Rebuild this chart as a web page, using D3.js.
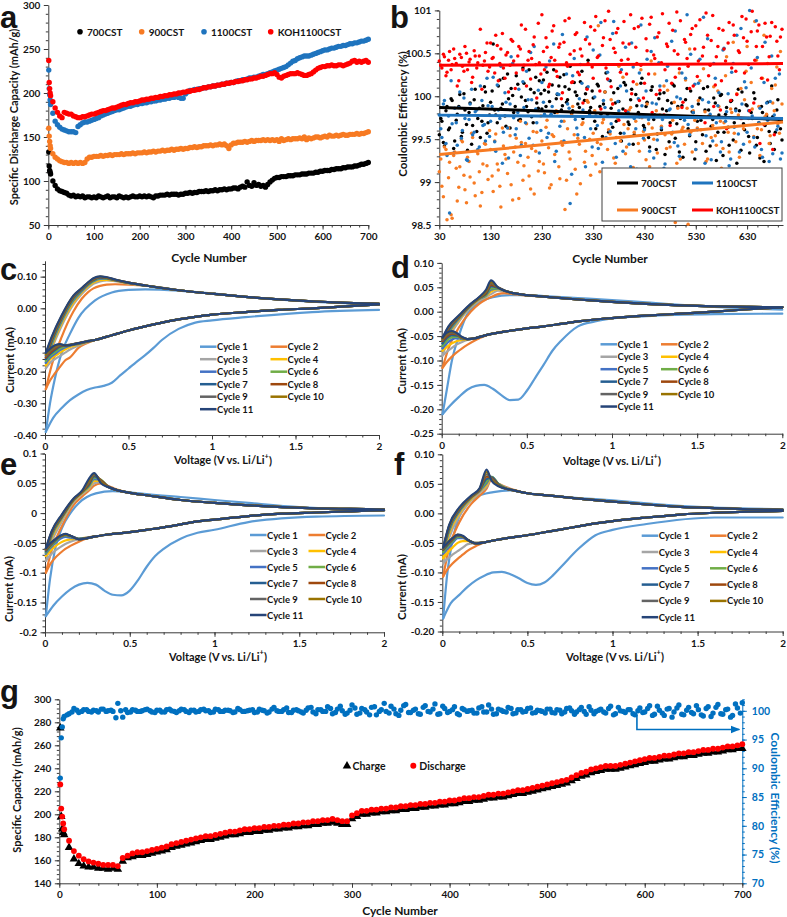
<!DOCTYPE html>
<html><head><meta charset="utf-8">
<script src="https://cdn.jsdelivr.net/npm/d3@7/dist/d3.min.js"></script>
<style>body{margin:0;background:#fff}</style>
</head><body>
<svg id="chart" width="787" height="917"></svg>
<script>
// ---------------- DATA ----------------
// Panel a: specific discharge capacity vs cycle
const cycA = [1,2,3,4].concat(d3.range(5,701,5));
const cap700 = [133,117,112,110,
108,100,95,91,89,88,87,86,84,83, 84,82,83,82,83,81,82,82,81,82, 81,83,82,81,82,83,81,82,82,81,
83,82,81,82,81,82,83,82,82,83, 82,83,82,83,82,81,83,83,84,84, 84,85,84,85,85,85,84,85,85,86,
86,87,86,87,87,88,88,88,89,88, 89,89,90,89,90,90,91,90,91,91, 92,92,91,93,94,93,99,95,94,98,
95,96,94,95,93,96,99,101,103,104, 104,105,105,105,106,106,106,107,107,107, 108,108,108,109,109,109,110,110,111,111,
112,112,112,113,113,114,114,114,115,115, 116,116,116,117,117,118,119,119,120,121];
const cap900 = [160,151,145,140,
137,131,127,125,123,122,121,121,120,121, 120,121,120,121,120,121,125,127,127,128, 128,128,129,128,129,129,130,129,130,130,
130,131,130,131,131,131,132,131,132,132, 132,133,132,133,133,134,133,134,134,135, 134,135,135,136,135,136,136,137,136,137,
137,138,138,139,138,139,139,140,140,140, 141,140,141,141,142,141,142,140,137,141, 143,143,144,144,144,145,144,145,146,145,
146,146,146,147,146,147,146,147,146,147, 145,148,146,147,148,147,148,148,148,149, 148,150,147,149,148,149,150,150,149,150,
151,150,152,151,151,152,151,152,153,152, 152,153,153,153,154,153,154,154,155,156];
const cap1100 = [226,205,198,192,
187,177,168,164,161,159,158,157,156,156, 156,155,162,164,166,167,167,168,169,170, 171,172,174,175,176,177,178,179,180,181,
181,182,183,184,185,185,186,187,187,188, 188,189,189,190,190,191,191,192,192,193, 193,194,194,195,195,196,195,194,194,199,
201,203,203,204,204,205,205,206,206,207, 207,208,208,209,209,210,210,211,211,212, 212,213,214,214,215,215,216,217,217,218,
218,219,220,221,221,222,223,224,225,226, 227,228,229,230,232,234,236,237,239,240, 241,242,242,242,243,244,245,246,247,248,
249,249,250,251,251,252,253,253,254,254, 255,256,256,257,257,258,259,259,260,261];
const capKOH = [237,212,205,200,
197,190,183,178,174,172,178,177,176,176, 174,173,172,172,173,173,174,175,176,176, 177,178,179,180,180,181,182,183,183,184,
185,186,187,187,188,189,189,190,190,191, 192,192,193,193,194,194,195,195,196,196, 197,197,198,198,199,199,200,200,201,201,
202,202,203,203,204,204,205,206,206,207, 207,208,208,209,209,210,210,211,211,212, 212,213,213,214,214,215,215,216,216,217,
217,218,219,219,220,221,222,222,223,221, 218,217,219,220,221,222,222,222,223,222, 221,220,220,221,222,224,226,228,229,230,
230,231,231,232,231,231,232,232,231,232, 233,234,236,237,235,236,235,236,237,235];
const seriesA = ["700CST","900CST","1100CST","KOH1100CST"];
const colorsA = ["#000000","#F77A22","#1F74BE","#FF0000"];

// Panel b: coulombic efficiency scatter (two readings per 5-cycle slot) + trend lines
const cycB = d3.range(30,700,5);
const cycB2 = d3.range(33,700,5);
const ce700 = [99.55,99.71,99.42,99.88,99.63,99.95,99.48,99.79,100.02,99.58,99.84,99.37,99.92,99.66,100.08,99.74,99.52,99.89,100.05,99.69,
99.93,100.61,99.78,100.12,99.86,100.21,99.65,99.97,100.09,99.81,100.24,99.72,99.99,100.15,99.88,100.31,99.76,100.04,99.92,100.18,
99.85,100.07,100.28,99.94,100.13,99.81,100.02,100.22,99.89,100.11,99.96,100.35,99.83,100.05,99.91,100.17,99.74,100.03,100.42,99.87,
99.98,99.62,100.12,99.79,99.91,100.27,99.58,99.86,100.04,99.71,99.94,99.48,100.16,99.82,99.67,100.08,99.55,99.89,99.76,100.21,
99.63,99.93,99.41,100.11,99.78,99.56,100.03,99.85,99.32,99.95,99.69,100.14,99.51,99.88,99.74,99.29,99.96,99.62,100.06,99.81,
99.47,99.91,99.72,100.09,99.36,99.84,99.65,99.98,99.25,99.78,100.02,99.58,99.87,99.43,99.95,99.69,99.22,99.83,100.05,99.61,
99.89,99.34,99.74,99.97,99.52,99.28,99.81,99.66,99.93,99.45,99.76,99.58,99.96,99.62];
const ce700b = [99.74,99.46,99.83,99.61,99.97,99.39,99.72,99.88,99.53,100.03,99.67,99.81,99.44,99.96,99.59,99.86,99.71,100.11,99.57,99.78,
100.06,99.84,99.69,100.19,99.91,99.77,100.26,99.63,100.01,99.88,100.14,99.73,100.33,99.95,99.82,100.08,99.69,100.22,99.86,100.03,
100.19,99.88,100.05,99.78,100.31,99.97,100.12,99.84,100.25,99.93,100.08,99.8,100.16,100.01,99.87,100.29,99.95,100.1,99.83,100.06,
99.71,100.14,99.88,99.53,100.05,99.79,100.18,99.64,99.92,100.09,99.57,99.85,100.13,99.7,99.96,99.44,100.02,99.81,100.15,99.66,
99.88,99.52,100.07,99.73,99.38,99.97,99.61,100.04,99.83,99.47,99.92,100.12,99.68,99.35,99.89,99.76,100.09,99.54,99.82,99.27,
99.71,99.98,99.55,99.84,100.11,99.42,99.73,99.92,99.58,100.01,99.31,99.79,99.64,99.94,99.49,99.85,100.08,99.37,99.68,99.9,
99.53,99.81,100.04,99.43,99.69,99.88,99.24,99.77,99.59,100.12,99.38,99.84,99.71,99.49];
const ce900 = [99.12,98.95,99.41,98.56,99.23,98.58,99.35,98.78,99.18,99.47,98.91,99.29,99.06,99.52,98.84,99.33,98.72,99.21,99.44,99.03,
99.38,98.89,99.56,99.14,98.71,99.42,99.27,99.63,98.97,99.35,99.51,98.81,99.46,99.19,99.68,99.07,99.39,98.86,99.58,99.24,
99.48,99.11,99.72,98.93,99.55,99.32,99.81,99.04,99.43,98.68,99.62,99.27,99.88,99.15,99.51,98.98,99.69,99.36,99.93,99.08,
99.57,99.21,100.82,99.44,99.73,98.87,99.61,99.96,99.28,99.52,100.35,99.13,99.67,99.41,99.84,99.02,99.58,100.14,99.36,99.75,
99.49,99.91,99.18,99.63,100.26,99.34,99.78,98.92,99.55,100.07,99.41,99.72,98.53,99.86,99.27,99.64,100.19,98.51,99.58,99.83,
99.38,99.95,99.61,100.32,99.24,99.77,99.52,100.11,99.43,99.88,99.16,99.69,100.46,99.35,99.81,99.57,100.03,99.29,99.74,99.96,
100.58,99.47,99.85,100.87,99.62,99.31,100.21,99.76,100.38,99.54,99.92,100.13,99.68,100.52];
const ce900b = [99.27,98.83,99.38,99.05,98.62,99.31,99.16,98.94,99.49,99.08,98.76,99.24,99.57,98.99,99.36,99.12,98.88,99.45,99.19,99.6,
99.07,99.48,99.21,98.95,99.63,99.32,99.1,99.54,98.79,99.41,99.23,99.71,99.02,99.45,99.29,98.92,99.59,99.36,99.13,99.77,
99.21,99.64,99.4,98.97,99.53,99.83,99.18,99.47,99.71,99.02,99.35,99.78,99.55,98.86,99.44,99.67,99.23,99.95,99.5,99.31,
99.83,99.46,99.12,99.69,100.05,99.38,99.56,99.91,99.22,99.74,99.48,100.22,99.33,99.62,99.87,99.17,99.71,99.45,100.31,99.59,
99.26,99.68,100.41,99.5,99.83,99.14,99.65,100.12,99.39,99.77,99.56,99.93,99.22,100.27,99.61,99.44,99.86,100.55,99.35,99.72,
99.63,100.18,99.45,99.82,99.27,100.37,99.66,99.54,100.06,99.71,99.39,100.24,99.58,99.85,100.63,99.47,99.78,100.09,99.62,100.29,
99.74,100.16,99.53,100.42,99.88,99.61,100.71,99.79,99.45,100.09,99.83,100.34,99.57,99.91];
const ce1100 = [99.78,99.52,99.95,99.31,98.64,99.68,99.86,99.43,100.05,99.6,99.74,99.25,99.91,99.55,99.82,99.38,100.12,99.66,99.48,99.89,
99.71,100.22,99.36,99.84,100.35,99.58,99.93,99.28,100.46,99.75,99.62,100.08,99.43,99.87,100.29,99.51,99.96,100.58,99.69,99.34,
100.16,99.79,99.52,100.41,99.88,99.24,100.03,99.65,100.72,99.46,99.91,98.75,100.24,99.73,99.55,100.37,99.84,99.18,100.11,99.62,
100.54,99.77,99.39,100.86,99.95,99.52,100.19,99.68,100.87,99.29,99.83,100.31,99.57,100.06,99.44,100.62,99.74,99.15,100.27,99.89,
99.61,100.43,99.36,99.92,100.68,99.49,100.12,99.73,99.21,100.35,99.85,99.58,100.76,99.42,99.97,99.13,100.21,99.67,100.49,99.81,
99.38,100.15,99.75,100.92,99.54,99.93,99.26,100.38,99.69,100.04,99.47,100.56,99.82,99.19,100.28,99.64,100.71,99.35,99.91,100.17,
99.58,101.0,99.77,99.41,100.45,99.86,99.29,100.63,99.72,99.94,99.33,100.21,99.65,99.27];
const ce1100b = [99.62,99.91,99.45,99.77,100.18,99.34,99.69,99.87,99.51,99.98,99.26,99.73,100.08,99.58,99.84,99.41,99.95,99.67,100.21,99.53,
99.88,99.47,100.13,99.74,99.22,100.04,99.63,99.91,100.38,99.55,99.81,99.31,100.17,99.69,99.96,100.51,99.43,99.85,100.07,99.6,
99.93,100.34,99.57,99.79,100.61,99.36,100.02,99.71,99.48,100.26,99.86,99.09,100.44,99.63,99.97,100.15,99.52,100.69,99.78,99.41,
99.99,99.66,100.48,99.23,99.87,100.28,99.59,100.73,99.45,99.94,100.12,99.36,100.57,99.81,99.18,100.34,99.62,99.97,100.83,99.51,
100.06,99.73,100.52,99.28,99.91,100.39,99.63,99.16,100.18,99.84,100.64,99.46,99.99,99.3,100.27,99.72,100.95,99.55,99.88,100.14,
99.61,100.43,99.96,99.22,100.67,99.79,99.48,100.21,99.89,99.35,100.54,99.71,100.03,99.27,100.38,99.83,99.56,100.79,99.44,100.1,
99.83,100.33,99.52,100.88,99.69,99.38,100.16,99.92,99.24,100.47,99.78,99.61,100.26,99.34];
const ceKOH = [100.41,100.33,100.46,100.28,100.52,100.37,100.44,100.12,100.49,100.35,100.58,100.31,100.43,100.22,100.47,100.39,100.78,100.36,100.51,100.29,
100.62,100.45,100.71,100.18,100.55,100.33,100.48,100.05,100.66,100.41,100.27,100.58,100.83,100.36,100.12,100.52,100.44,100.69,99.98,100.39,
100.95,100.31,100.57,100.14,100.76,100.42,100.23,100.61,100.04,100.88,100.35,100.49,100.17,100.72,100.28,100.55,99.92,100.66,100.38,100.81,
100.21,100.93,100.47,99.85,100.68,100.33,100.99,100.11,100.56,100.74,99.72,100.42,100.87,100.26,100.61,100.03,100.79,100.38,99.95,100.91,
100.15,100.53,100.84,99.81,100.44,100.69,100.07,100.96,100.31,100.58,99.66,100.77,100.22,100.49,100.88,99.93,100.63,100.35,100.72,100.12,
100.82,100.41,99.76,100.57,100.97,100.24,100.65,99.88,100.46,100.79,100.18,100.55,99.62,100.86,100.33,100.71,100.02,100.51,100.93,100.27,
100.64,99.83,100.99,100.42,100.76,99.45,100.58,100.85,100.19,100.7,99.38,100.81,100.47,100.69];
const ceKOHb = [100.36,100.49,100.24,100.42,100.31,100.55,100.38,100.18,100.45,100.29,100.5,100.4,100.16,100.53,100.33,100.47,100.08,100.41,100.62,100.34,
100.44,100.27,100.59,100.38,100.73,100.21,100.51,100.36,100.64,100.09,100.47,100.55,100.31,100.78,100.42,100.2,100.6,100.37,100.85,100.26,
100.52,100.68,100.11,100.45,100.82,100.29,100.57,99.97,100.63,100.39,100.91,100.16,100.53,100.74,100.25,100.47,100.86,100.08,100.61,100.34,
100.77,100.45,100.06,100.59,100.88,100.2,100.66,99.91,100.51,100.79,100.28,100.62,99.83,100.43,100.95,100.17,100.57,100.81,100.36,99.98,
100.67,100.26,100.92,100.48,100.02,100.74,100.39,99.78,100.61,100.85,100.15,100.53,100.98,100.32,99.87,100.66,100.44,100.09,100.79,100.55,
100.23,100.89,100.47,99.69,100.71,100.36,100.94,100.13,100.58,99.84,100.77,100.41,100.62,99.95,100.83,100.29,100.53,99.74,100.68,100.9,
100.37,100.75,99.92,100.58,100.83,100.21,99.67,100.69,100.46,100.86,99.55,100.64,100.31,100.78];
const trendStart = [99.87,99.32,99.78,100.36];
const trendEnd = [99.73,99.70,99.74,100.38];
const trendCycles = [30,700];

// Panels c-f: cyclic voltammograms, 11 cycles
const cycleNames = d3.range(1,12).map(i=>"Cycle "+i);
const cycleColors = ["#5B9BD5","#ED7D31","#A5A5A5","#FFC000","#4472C4","#70AD47","#255E91","#9E480E","#636363","#997300","#264478"];
const vC1 = [2.0,1.6,1.2,1.0,0.9,0.8,0.7,0.65,0.6,0.55,0.5,0.45,0.4,0.35,0.3,0.25,0.2,0.15,0.1,0.05,0.005];
const vA1 = [0.005,0.03,0.06,0.1,0.15,0.2,0.3,0.4,0.5,0.6,0.8,1.0,1.2,1.5,1.8,2.0];
const vCathHi = [2.0,1.8,1.6,1.4,1.2,1.0,0.9,0.8,0.7,0.6,0.5,0.4,0.3];
const vCathLo = [0.25,0.2,0.15,0.12,0.09,0.06,0.03,0.005];
const vAnoLo = [0.005,0.04,0.1,0.17,0.22,0.26,0.29,0.33,0.37,0.42,0.5];
const vAnoHi = [0.6,0.8,1.0,1.2,1.4,1.6,1.8,2.0];

const cvC = {
 c1Cath:[-0.005,-0.012,-0.028,-0.038,-0.045,-0.065,-0.1,-0.125,-0.148,-0.168,-0.19,-0.212,-0.235,-0.245,-0.25,-0.258,-0.272,-0.29,-0.315,-0.345,-0.39],
 c1Anod:[-0.39,-0.3,-0.22,-0.14,-0.08,-0.03,0.025,0.05,0.058,0.06,0.056,0.047,0.036,0.024,0.016,0.013],
 cathHi:[0.012,0.006,0.0,-0.005,-0.012,-0.02,-0.027,-0.035,-0.045,-0.057,-0.07,-0.085,-0.1],
 cathLo:[[-0.11,-0.125,-0.155,-0.165,-0.185,-0.205,-0.228,-0.255],
  [-0.108,-0.118,-0.13,-0.14,-0.15,-0.16,-0.172,-0.19],
  [-0.107,-0.115,-0.122,-0.13,-0.14,-0.15,-0.162,-0.18],
  [-0.106,-0.113,-0.118,-0.124,-0.132,-0.144,-0.156,-0.172],
  [-0.106,-0.112,-0.116,-0.12,-0.127,-0.138,-0.15,-0.166],
  [-0.105,-0.111,-0.115,-0.118,-0.121,-0.132,-0.145,-0.16],
  [-0.105,-0.11,-0.115,-0.117,-0.118,-0.127,-0.14,-0.155],
  [-0.105,-0.11,-0.115,-0.117,-0.116,-0.123,-0.135,-0.15],
  [-0.104,-0.11,-0.116,-0.117,-0.114,-0.12,-0.131,-0.145],
  [-0.104,-0.11,-0.116,-0.117,-0.113,-0.117,-0.128,-0.14]],
 anodLo:[[-0.255,-0.18,-0.09,-0.01,0.03,0.052,0.063,0.071,0.075,0.076,0.075],
  [-0.19,-0.13,-0.055,0.012,0.045,0.065,0.077,0.085,0.088,0.086,0.078],
  [-0.18,-0.122,-0.047,0.018,0.05,0.07,0.081,0.089,0.09,0.087,0.079],
  [-0.172,-0.115,-0.041,0.024,0.054,0.074,0.085,0.093,0.093,0.088,0.08],
  [-0.166,-0.109,-0.036,0.028,0.057,0.076,0.087,0.095,0.094,0.089,0.08],
  [-0.16,-0.104,-0.032,0.032,0.059,0.078,0.089,0.097,0.095,0.089,0.08],
  [-0.155,-0.1,-0.029,0.035,0.061,0.08,0.091,0.098,0.096,0.09,0.081],
  [-0.15,-0.096,-0.026,0.037,0.062,0.081,0.093,0.099,0.097,0.09,0.081],
  [-0.145,-0.093,-0.024,0.039,0.063,0.082,0.094,0.1,0.097,0.09,0.081],
  [-0.14,-0.09,-0.022,0.04,0.064,0.083,0.095,0.101,0.098,0.091,0.081]],
 anodHi:[0.072,0.057,0.046,0.036,0.028,0.022,0.017,0.014]
};
const cvD = {
 c1Cath:[-0.004,-0.005,-0.009,-0.014,-0.02,-0.03,-0.06,-0.08,-0.108,-0.135,-0.162,-0.18,-0.181,-0.171,-0.158,-0.15,-0.152,-0.16,-0.175,-0.192,-0.21],
 c1Anod:[-0.21,-0.16,-0.1,-0.05,-0.005,0.014,0.03,0.034,0.034,0.032,0.028,0.024,0.019,0.012,0.007,0.004],
 cathHi:[0.009,0.005,0.0,-0.004,-0.008,-0.013,-0.016,-0.02,-0.025,-0.03,-0.034,-0.039,-0.045],
 cathLo:[[-0.05,-0.058,-0.068,-0.075,-0.083,-0.092,-0.103,-0.115],
  [-0.049,-0.054,-0.058,-0.062,-0.067,-0.074,-0.082,-0.09],
  [-0.049,-0.054,-0.057,-0.058,-0.06,-0.065,-0.072,-0.08],
  [-0.049,-0.054,-0.056,-0.056,-0.054,-0.057,-0.065,-0.075],
  [-0.049,-0.054,-0.056,-0.055,-0.051,-0.052,-0.059,-0.07],
  [-0.049,-0.054,-0.056,-0.054,-0.049,-0.048,-0.054,-0.065],
  [-0.049,-0.054,-0.056,-0.054,-0.047,-0.045,-0.05,-0.06],
  [-0.049,-0.054,-0.056,-0.053,-0.046,-0.043,-0.047,-0.058],
  [-0.049,-0.054,-0.056,-0.053,-0.045,-0.041,-0.045,-0.055],
  [-0.049,-0.054,-0.056,-0.052,-0.044,-0.04,-0.043,-0.053]],
 anodLo:[[-0.115,-0.075,-0.033,0.0,0.016,0.025,0.03,0.036,0.038,0.036,0.033],
  [-0.09,-0.055,-0.021,0.009,0.023,0.03,0.036,0.043,0.042,0.038,0.034],
  [-0.08,-0.048,-0.017,0.011,0.025,0.032,0.041,0.046,0.043,0.038,0.034],
  [-0.075,-0.044,-0.015,0.012,0.026,0.033,0.045,0.047,0.043,0.038,0.034],
  [-0.07,-0.041,-0.013,0.013,0.027,0.034,0.048,0.048,0.043,0.038,0.034],
  [-0.065,-0.038,-0.012,0.014,0.028,0.036,0.052,0.049,0.043,0.038,0.034],
  [-0.06,-0.035,-0.011,0.014,0.028,0.038,0.055,0.05,0.043,0.038,0.034],
  [-0.058,-0.033,-0.01,0.015,0.029,0.04,0.058,0.05,0.043,0.038,0.034],
  [-0.055,-0.031,-0.009,0.015,0.029,0.042,0.061,0.05,0.043,0.038,0.034],
  [-0.053,-0.03,-0.008,0.016,0.03,0.045,0.064,0.05,0.043,0.038,0.034]],
 anodHi:[0.031,0.025,0.02,0.016,0.013,0.011,0.01,0.009]
};
const cvE = {
 c1Cath:[-0.004,-0.006,-0.015,-0.028,-0.033,-0.043,-0.06,-0.072,-0.09,-0.112,-0.13,-0.138,-0.137,-0.13,-0.12,-0.117,-0.12,-0.128,-0.14,-0.155,-0.173],
 c1Anod:[-0.173,-0.11,-0.06,-0.025,0.0,0.017,0.033,0.037,0.035,0.032,0.027,0.022,0.017,0.01,0.006,0.004],
 cathHi:[0.005,0.003,0.001,-0.001,-0.005,-0.011,-0.014,-0.019,-0.024,-0.028,-0.032,-0.035,-0.039],
 cathLo:[[-0.042,-0.048,-0.055,-0.06,-0.067,-0.075,-0.086,-0.1],
  [-0.041,-0.044,-0.048,-0.052,-0.057,-0.063,-0.071,-0.08],
  [-0.041,-0.043,-0.044,-0.046,-0.05,-0.056,-0.064,-0.072],
  [-0.041,-0.043,-0.041,-0.04,-0.043,-0.05,-0.059,-0.068],
  [-0.042,-0.043,-0.039,-0.037,-0.04,-0.048,-0.057,-0.066],
  [-0.042,-0.043,-0.038,-0.036,-0.039,-0.046,-0.055,-0.064],
  [-0.042,-0.044,-0.038,-0.036,-0.039,-0.045,-0.054,-0.062],
  [-0.042,-0.044,-0.038,-0.036,-0.039,-0.045,-0.053,-0.061],
  [-0.042,-0.044,-0.038,-0.036,-0.039,-0.044,-0.052,-0.06],
  [-0.042,-0.044,-0.038,-0.035,-0.038,-0.044,-0.051,-0.059]],
 anodLo:[[-0.1,-0.062,-0.022,0.014,0.028,0.038,0.046,0.05,0.046,0.04,0.034],
  [-0.08,-0.048,-0.014,0.019,0.032,0.041,0.05,0.052,0.045,0.039,0.034],
  [-0.072,-0.041,-0.01,0.021,0.034,0.043,0.054,0.054,0.045,0.039,0.034],
  [-0.068,-0.038,-0.008,0.022,0.035,0.045,0.057,0.055,0.045,0.039,0.034],
  [-0.066,-0.036,-0.007,0.022,0.035,0.046,0.06,0.056,0.045,0.039,0.034],
  [-0.064,-0.034,-0.006,0.023,0.036,0.048,0.062,0.055,0.045,0.039,0.034],
  [-0.062,-0.033,-0.005,0.023,0.036,0.05,0.064,0.055,0.045,0.039,0.034],
  [-0.061,-0.032,-0.004,0.024,0.037,0.052,0.065,0.053,0.044,0.039,0.034],
  [-0.06,-0.031,-0.003,0.024,0.037,0.055,0.066,0.052,0.044,0.039,0.034],
  [-0.059,-0.03,-0.002,0.025,0.038,0.058,0.067,0.05,0.044,0.039,0.034]],
 anodHi:[0.03,0.022,0.017,0.013,0.01,0.008,0.007,0.006]
};
const cvF = {
 c1Cath:[-0.007,-0.007,-0.018,-0.028,-0.037,-0.06,-0.09,-0.105,-0.117,-0.121,-0.118,-0.11,-0.103,-0.099,-0.1,-0.105,-0.113,-0.124,-0.138,-0.152,-0.178],
 c1Anod:[-0.178,-0.1,-0.045,-0.005,0.018,0.028,0.036,0.039,0.034,0.031,0.026,0.022,0.017,0.011,0.008,0.007],
 cathHi:[0.004,0.003,0.001,-0.002,-0.007,-0.013,-0.017,-0.022,-0.027,-0.032,-0.037,-0.041,-0.046],
 cathLo:[[-0.049,-0.055,-0.063,-0.07,-0.077,-0.085,-0.095,-0.107],
  [-0.049,-0.05,-0.052,-0.058,-0.064,-0.07,-0.077,-0.085],
  [-0.049,-0.05,-0.047,-0.047,-0.05,-0.058,-0.067,-0.076],
  [-0.049,-0.05,-0.045,-0.042,-0.042,-0.05,-0.06,-0.068],
  [-0.049,-0.051,-0.045,-0.04,-0.04,-0.047,-0.056,-0.065],
  [-0.049,-0.051,-0.045,-0.039,-0.038,-0.045,-0.054,-0.062],
  [-0.049,-0.051,-0.045,-0.039,-0.037,-0.044,-0.052,-0.061],
  [-0.049,-0.051,-0.045,-0.039,-0.037,-0.043,-0.051,-0.06],
  [-0.049,-0.051,-0.045,-0.039,-0.036,-0.042,-0.05,-0.059],
  [-0.049,-0.051,-0.045,-0.038,-0.036,-0.042,-0.05,-0.058]],
 anodLo:[[-0.107,-0.058,-0.015,0.016,0.03,0.042,0.058,0.05,0.045,0.04,0.034],
  [-0.085,-0.042,-0.005,0.022,0.035,0.045,0.06,0.05,0.044,0.039,0.034],
  [-0.076,-0.035,0.0,0.024,0.037,0.048,0.061,0.05,0.043,0.039,0.034],
  [-0.068,-0.03,0.003,0.026,0.038,0.051,0.062,0.05,0.043,0.039,0.034],
  [-0.065,-0.027,0.005,0.027,0.039,0.054,0.062,0.05,0.043,0.039,0.034],
  [-0.062,-0.025,0.006,0.028,0.04,0.058,0.061,0.049,0.042,0.039,0.034],
  [-0.061,-0.023,0.007,0.028,0.04,0.062,0.06,0.048,0.042,0.039,0.034],
  [-0.06,-0.022,0.008,0.029,0.041,0.066,0.059,0.047,0.042,0.039,0.034],
  [-0.059,-0.021,0.009,0.029,0.042,0.07,0.057,0.047,0.042,0.039,0.034],
  [-0.058,-0.02,0.01,0.03,0.043,0.074,0.055,0.046,0.042,0.039,0.034]],
 anodHi:[0.031,0.025,0.02,0.015,0.011,0.009,0.007,0.006]
};

// Panel g: charge / discharge capacity and coulombic efficiency (1100CST)
const cycG = cycA;
const dischargeG = cap1100;
const chargeG = [276,199,188,185,
183,172,162,158,156,155,155,154,154,153, 154,153,160,163,164,165,165,166,167,168, 169,170,172,173,174,175,176,177,178,179,
179,180,181,182,183,183,184,185,185,186, 186,187,187,188,188,189,189,190,190,191, 191,192,192,193,193,194,193,192,192,197,
199,201,201,202,202,203,203,204,204,205, 205,206,206,207,207,208,208,209,209,210, 210,211,212,212,213,213,214,215,215,216,
216,217,218,219,219,220,221,222,223,224, 225,226,227,228,230,232,234,235,237,238, 239,240,240,240,241,242,243,244,245,246,
247,247,248,249,249,250,251,251,252,252, 253,254,254,255,255,256,257,257,258,258];
const ceG = [88.3,95.3,97.2,98.6,99.0,
99.5,100.4,99.7,100.2,99.9,100.1,99.8,100.3,100.0,99.9,101.3,98.9,99.7,100.2,99.9,100.0,100.3,99.8,100.1,
99.8,100.2,100.0,99.7,100.3,99.9,100.1,99.8,100.2,100.0,99.7,100.3,99.9,100.1,100.0,99.8,100.2,99.9,100.1,99.7,
100.3,100.0,99.8,100.6,99.9,100.2,99.7,100.1,100.0,99.6,100.5,99.8,100.2,99.9,100.7,99.5,100.3,100.0,99.6,101.0,
99.4,100.4,99.8,100.6,99.3,100.2,99.9,100.8,99.5,100.1,101.1,99.7,100.3,99.4,100.9,99.8,101.2,99.5,100.4,99.9,
100.7,99.3,100.2,100.0,99.6,100.5,99.8,101.0,99.4,100.3,99.9,100.6,99.5,100.2,99.8,100.4,99.6,100.1,99.9,100.3,
99.7,100.2,99.5,100.4,100.0,99.8,100.6,99.4,100.1,99.9,100.3,99.6,100.8,99.5,100.0,99.7,100.2,99.3,100.5,99.8,
100.9,99.4,100.1,99.2,100.4,99.8,101.0,99.3,100.6,99.5,100.2,99.1,100.7,99.6,101.1,99.4,100.3,99.2,100.5,101.4];
const cycG2 = d3.range(8,700,5);
const ceG2 = [99.3,99.8,100.1,99.9,100.2,99.8,100.0,100.3,99.9,100.1,98.8,100.0,100.2,99.8,100.1,99.9,100.2,100.0,99.7,
100.1,99.8,100.3,99.9,100.0,100.2,99.7,100.1,99.9,100.3,100.0,99.8,100.2,99.9,100.1,99.7,100.4,99.9,100.0,100.2,
99.8,100.1,99.6,100.3,100.0,99.9,100.5,99.7,100.2,99.8,100.1,100.6,99.5,100.2,99.9,100.4,99.7,100.8,99.4,100.1,
100.5,99.6,100.2,99.3,100.7,99.9,101.3,99.6,100.3,99.2,100.9,99.7,100.1,99.5,100.6,99.9,100.3,99.4,100.8,99.7,
100.2,99.5,100.4,99.9,100.1,99.6,100.7,99.8,100.3,99.5,100.1,99.8,100.4,99.6,100.2,99.9,100.5,99.7,100.0,99.6,
100.3,99.6,100.1,99.8,100.5,99.4,100.2,99.9,100.7,99.5,100.1,99.8,100.4,99.3,100.6,99.9,100.2,99.5,100.0,99.7,
100.4,99.2,100.8,99.6,100.3,98.9,100.5,99.4,100.1,99.7,100.9,99.3,100.4,99.0,100.6,99.5,100.2,98.9,101.2,99.6];

// tick labels
const ticksAX = [0,100,200,300,400,500,600,700], ticksAY = [50,100,150,200,250,300];
const ticksBX = [30,130,230,330,430,530,630], ticksBY = [98.5,99,99.5,100,100.5,101];
const ticksV = [0,0.5,1,1.5,2];
const ticksCY = [-0.4,-0.3,-0.2,-0.1,0,0.1];
const ticksDY = [-0.25,-0.2,-0.15,-0.1,-0.05,0,0.05,0.1];
const ticksEY = [-0.2,-0.15,-0.1,-0.05,0,0.05,0.1];
const ticksFY = [-0.2,-0.15,-0.1,-0.05,0,0.05,0.1];
const ticksGX = [0,100,200,300,400,500,600,700], ticksGY = [140,160,180,200,220,240,260,280,300], ticksGR = [70,75,80,85,90,95,100];

// ---------------- DRAWING ----------------
const svg = d3.select('#chart');
const FONT = "Lato, 'Open Sans', 'DejaVu Sans', sans-serif";
const LFONT = "'Liberation Sans', Arial, sans-serif";
const TXT = '#141414', AXC = '#3a3a3a';

function drawAxis(orient, scale, pos, major, fmt, minor, o={}) {
  const mk = {left:d3.axisLeft, right:d3.axisRight, bottom:d3.axisBottom}[orient];
  const g = svg.append('g').attr('transform', orient==='bottom' ? `translate(0,${pos})` : `translate(${pos},0)`);
  if (minor) {
    g.append('g').call(mk(scale).tickValues(minor).tickFormat('').tickSize(2.5).tickSizeOuter(0)).select('.domain').remove();
  }
  g.append('g').call(mk(scale).tickValues(major).tickFormat(fmt).tickSize(4.5).tickPadding(o.pad||3.5).tickSizeOuter(0));
  g.selectAll('path,line').attr('stroke', o.color||AXC).attr('stroke-width',1);
  g.selectAll('text').attr('fill', o.tcolor||TXT).style('font-family',FONT).style('font-weight',700).style('font-size',(o.fs||10)+'px');
  return g;
}
function label(x, y, txt, o={}) {
  const t = svg.append('text').attr('x',x).attr('y',y).text(txt)
    .attr('text-anchor', o.anchor||'middle').attr('dominant-baseline', o.base||'central')
    .style('font-family',o.font||FONT).style('font-weight',700).style('font-size',(o.fs||11.5)+'px')
    .attr('fill', o.color||TXT);
  if (o.rot) t.attr('transform',`rotate(${o.rot},${x},${y})`);
  return t;
}
function panelLabel(x, y, s){ label(x,y,s,{fs:31,anchor:'start',base:'auto',font:LFONT}); }
function voltTitle(x, y){
  const t = label(x,y,'Voltage (V vs. Li/Li',{fs:11});
  t.append('tspan').attr('dy',-4).style('font-size','7.5px').text('+');
  t.append('tspan').attr('dy',4).text(')');
}
const fmt2 = v => v.toFixed(2);
const fmtG = v => String(+v.toFixed(3));
const fmtI = v => String(v);
const minorRange = (a,b,s) => d3.range(Math.round((b-a)/s)+1).map(i => +(a+i*s).toFixed(4));

// ===== Panel a =====
{
  const x = d3.scaleLinear().domain([0,700]).range([48.3,368.3]);
  const y = d3.scaleLinear().domain([50,300]).range([225,5]);
  drawAxis('left', y, 48.3, ticksAY, fmtI, minorRange(50,300,10));
  drawAxis('bottom', x, 225, ticksAX, fmtI, minorRange(0,700,20));
  [cap700,cap900,cap1100,capKOH].forEach((s,k)=>{
    svg.append('g').selectAll('circle').data(s).join('circle')
      .attr('cx',(d,i)=>x(cycA[i])).attr('cy',d=>y(d)).attr('r',2.7).attr('fill',colorsA[k]);
  });
  const lx = [80,141.7,204,270.7];
  seriesA.forEach((n,k)=>{
    svg.append('circle').attr('cx',lx[k]).attr('cy',31.7).attr('r',2.8).attr('fill',colorsA[k]);
    label(lx[k]+7,32,n,{fs:10,anchor:'start'});
  });
  label(209,257,'Cycle Number',{fs:12});
  label(13,117,'Specific Discharge Capacity (mAh/g)',{fs:11,rot:-90});
  panelLabel(0,27.5,'a');
}

// ===== Panel b =====
{
  const x = d3.scaleLinear().domain([30,700]).range([439.3,783]);
  const y = d3.scaleLinear().domain([98.5,101]).range([225,10.4]);
  drawAxis('left', y, 439.3, ticksBY, fmtI, minorRange(98.5,101,0.1));
  drawAxis('bottom', x, 225, ticksBX, fmtI, minorRange(30,690,20));
  [[ce700,ce700b],[ce900,ce900b],[ce1100,ce1100b],[ceKOH,ceKOHb]].forEach((pair,k)=>{
    [[pair[0],cycB],[pair[1],cycB2]].forEach(([s,cyc])=>{
      svg.append('g').selectAll('circle').data(s).join('circle')
        .attr('cx',(d,i)=>x(cyc[i])).attr('cy',d=>y(d)).attr('r',1.75).attr('fill',colorsA[k]);
    });
  });
  const ln = d3.line().x(d=>x(d[0])).y(d=>y(d[1]));
  [0,1,2,3].forEach(k=>{
    svg.append('path').attr('d',ln([[trendCycles[0],trendStart[k]],[trendCycles[1],trendEnd[k]]]))
      .attr('stroke',colorsA[k]).attr('stroke-width',3).attr('fill','none');
  });
  svg.append('rect').attr('x',602).attr('y',168).attr('width',180).attr('height',53)
    .attr('fill','#fff').attr('stroke','#404040').attr('stroke-width',1);
  const pos = [[617,183],[617,210],[692,183],[692,210]];
  [0,1,2,3].forEach(k=>{
    const [px,py] = pos[k];
    svg.append('line').attr('x1',px).attr('x2',px+21).attr('y1',py).attr('y2',py).attr('stroke',colorsA[k]).attr('stroke-width',3);
    label(px+24,py,seriesA[k],{fs:10,anchor:'start'});
  });
  label(610,258,'Cycle Number',{fs:12});
  label(402,114,'Coulombic Efficiency (%)',{fs:11.5,rot:-90});
  panelLabel(390,27.5,'b');
}

// ===== CV panels =====
function cvPanel(P, xr, yd, yr, yt, yfmt, yminor, leg) {
  const x = d3.scaleLinear().domain([0,2]).range(xr);
  const y = d3.scaleLinear().domain(yd).range(yr);
  drawAxis('left', y, xr[0], yt, yfmt, yminor);
  drawAxis('bottom', x, yr[0], ticksV, fmtI, minorRange(0,2,0.1));
  const ln = d3.line().x(d=>x(d[0])).y(d=>y(d[1])).curve(d3.curveMonotoneX);
  const draw = (pts,c)=> svg.append('path').attr('d',ln(pts)).attr('fill','none')
      .attr('stroke',c).attr('stroke-width',2.2).attr('stroke-linejoin','round').attr('stroke-linecap','round');
  draw(vC1.map((v,i)=>[v,P.c1Cath[i]]).reverse(), cycleColors[0]);
  draw(vA1.map((v,i)=>[v,P.c1Anod[i]]), cycleColors[0]);
  for (let k=0;k<10;k++){
    const cath = vCathHi.map((v,i)=>[v,P.cathHi[i]]).concat(vCathLo.map((v,i)=>[v,P.cathLo[k][i]])).reverse();
    const anod = vAnoLo.map((v,i)=>[v,P.anodLo[k][i]]).concat(vAnoHi.map((v,i)=>[v,P.anodHi[i]]));
    draw(cath, cycleColors[k+1]); draw(anod, cycleColors[k+1]);
  }
  cycleNames.forEach((n,i)=>{
    const col = i%2, row = Math.floor(i/2);
    const sx = leg.cols[col], sy = leg.y0 + row*leg.dy;
    svg.append('line').attr('x1',sx).attr('x2',sx+16.5).attr('y1',sy).attr('y2',sy).attr('stroke',cycleColors[i]).attr('stroke-width',2.5);
    label(sx+17,sy,n,{fs:9.5,anchor:'start'});
  });
}
cvPanel(cvC,[45,379],[-0.4,0.15],[435,260.8],ticksCY,fmt2,minorRange(-0.4,0.14,0.02),{cols:[200,270.5],y0:346.7,dy:12.5});
cvPanel(cvD,[441.7,782.3],[-0.25,0.10],[433.7,262.9],ticksDY,fmt2,minorRange(-0.25,0.1,0.01),{cols:[600.5,661],y0:344.3,dy:12.45});
cvPanel(cvE,[45,384],[-0.2,0.1],[632.3,453.5],ticksEY,fmtG,minorRange(-0.2,0.1,0.01),{cols:[250,308.5],y0:535,dy:16});
cvPanel(cvF,[442.3,782.7],[-0.2,0.1],[631.5,454.3],ticksFY,fmt2,minorRange(-0.2,0.1,0.01),{cols:[641.7,710],y0:535.7,dy:16.3});
voltTitle(223,459.5); voltTitle(612,460);
voltTitle(218,656); voltTitle(615,656);
label(9,360,'Current (mA)',{fs:11.5,rot:-90});
label(401,361,'Current (mA)',{fs:11.5,rot:-90});
label(8,589,'Current (mA)',{fs:11.5,rot:-90});
label(401,587,'Current (mA)',{fs:11.5,rot:-90});
panelLabel(0,280,'c'); panelLabel(391,278,'d'); panelLabel(0,475,'e'); panelLabel(394,475,'f');

// ===== Panel g =====
{
  const x = d3.scaleLinear().domain([0,700]).range([59.3,742.3]);
  const y = d3.scaleLinear().domain([140,300]).range([883.3,699.3]);
  const yr = d3.scaleLinear().domain([70,102]).range([883.3,699.3]);
  const BL = '#0070C0';
  drawAxis('left', y, 59.3, ticksGY, fmtI, minorRange(140,300,4));
  drawAxis('right', yr, 742.3, ticksGR, fmtI, minorRange(70,102,1), {color:BL, tcolor:BL, pad:5, fs:10.5});
  drawAxis('bottom', x, 883.3, ticksGX, fmtI, minorRange(0,700,20));
  const tri = d3.symbol().type(d3.symbolTriangle).size(32);
  svg.append('g').selectAll('path').data(chargeG).join('path')
    .attr('d',tri).attr('transform',(d,i)=>`translate(${x(cycG[i])},${y(d)+1})`).attr('fill','#000');
  svg.append('g').selectAll('circle').data(dischargeG).join('circle')
    .attr('cx',(d,i)=>x(cycG[i])).attr('cy',d=>y(d)).attr('r',2.9).attr('fill','#FF0000');
  [[ceG,cycG],[ceG2,cycG2]].forEach(([s,cyc])=>{
    svg.append('g').selectAll('circle').data(s).join('circle')
      .attr('cx',(d,i)=>x(cyc[i])).attr('cy',d=>yr(d)).attr('r',2.7).attr('fill',BL);
  });
  // arrow pointing to right axis
  svg.append('defs').append('marker').attr('id','ah').attr('viewBox','0 0 10 10').attr('refX',9).attr('refY',5)
    .attr('markerWidth',6).attr('markerHeight',6).attr('orient','auto')
    .append('path').attr('d','M0,1 L10,5 L0,9 z').attr('fill',BL);
  svg.append('path').attr('d',d3.line()([[x(592),yr(99.3)],[x(592),yr(96.75)],[x(697),yr(96.75)]]))
    .attr('fill','none').attr('stroke',BL).attr('stroke-width',1.6).attr('marker-end','url(#ah)');
  svg.append('path').attr('d',tri).attr('transform','translate(347,766)').attr('fill','#000');
  label(352.5,766,'Charge',{fs:10.5,anchor:'start'});
  svg.append('circle').attr('cx',413.3).attr('cy',765.7).attr('r',3).attr('fill','#FF0000');
  label(419.3,766,'Discharge',{fs:10.5,anchor:'start'});
  label(400,910,'Cycle Number',{fs:12});
  label(16,790,'Specific Capacity (mAh/g)',{fs:11,rot:-90});
  label(775,798,'Coulombic Efficiency (%)',{fs:12,rot:90,color:BL});
  panelLabel(0,702,'g');
}
</script>
</body></html>
